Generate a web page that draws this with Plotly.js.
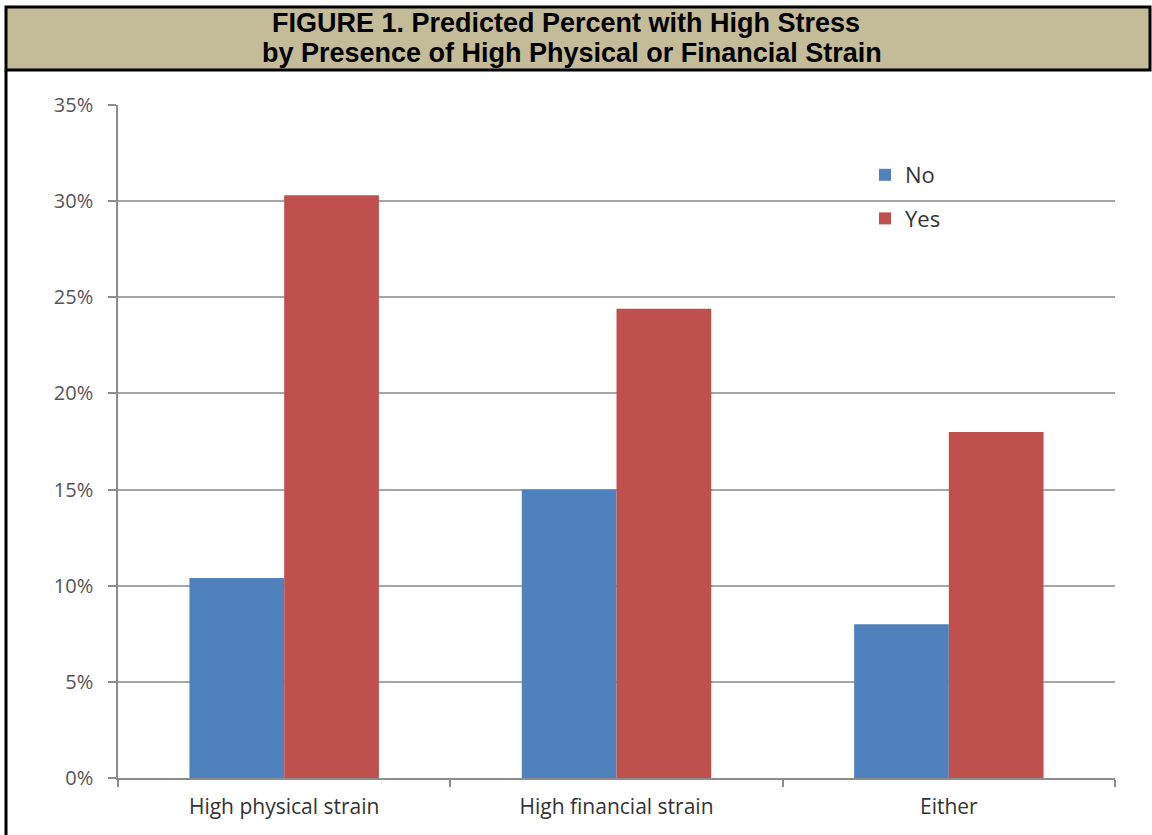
<!DOCTYPE html>
<html>
<head>
<meta charset="utf-8">
<script src="https://cdn.plot.ly/plotly-3.0.1.min.js"></script>
<style>
  html, body { margin: 0; padding: 0; background: #ffffff; }
  #chart { width: 1152px; height: 835px; }
</style>
</head>
<body>
<div id="chart"></div>
<script>
// ---- data ----
const categories = ["High physical strain", "High financial strain", "Either"];
const seriesNames = ["No", "Yes"];
const noValues = [10.4, 15.0, 8.0];
const yesValues = [30.3, 24.4, 18.0];
const yTickValues = [0, 5, 10, 15, 20, 25, 30, 35];
const yTickLabels = ["0%", "5%", "10%", "15%", "20%", "25%", "30%", "35%"];
const titleLines = ["FIGURE 1. Predicted Percent with High Stress", "by Presence of High Physical or Financial Strain"];

// ---- layout geometry (pixels) ----
const FW = 1152, FH = 835;
const L = 118, R = 1115, T = 105, B = 778;
const PW = R - L, PH = B - T;
const px = x => (x - L) / PW;
const py = y => (B - y) / PH;

const blue = "#4f81bd", red = "#c0504d";
const bodyFont = "Open Sans, Lato, sans-serif";
const titleFont = { family: "Liberation Sans, Arial, sans-serif", size: 27, color: "#000000", weight: "bold" };

const traces = [
  { type: "bar", name: seriesNames[0], x: categories, y: noValues,
    marker: { color: blue }, legendgroup: "a", hoverinfo: "x+y" },
  { type: "bar", name: seriesNames[1], x: categories, y: yesValues,
    marker: { color: red }, legendgroup: "b", hoverinfo: "x+y" }
];

const layout = {
  width: FW, height: FH,
  margin: { l: L, r: FW - R, t: T, b: FH - B, pad: 0 },
  paper_bgcolor: "#ffffff", plot_bgcolor: "#ffffff",
  barmode: "group", bargap: 0.43, bargroupgap: 0,
  title: {
    text: titleLines[0],
    font: titleFont,
    xref: "container", yref: "container", x: 566 / FW, xanchor: "center",
    y: 1 - 23 / FH, yanchor: "middle"
  },
  annotations: [
    { text: titleLines[1], xref: "paper", yref: "paper", showarrow: false,
      x: px(572), xanchor: "center", y: py(53), yanchor: "middle",
      font: titleFont }
  ],
  xaxis: {
    type: "category",
    showline: true, linecolor: "#8c8c8c", linewidth: 1.5,
    ticks: "outside", tickson: "boundaries", ticklen: 7, tickcolor: "#8c8c8c", tickwidth: 1.5,
    tickfont: { family: bodyFont, size: 21, color: "#333333" },
    ticklabelstandoff: 9,
    showgrid: false, zeroline: false, fixedrange: true
  },
  yaxis: {
    range: [0, 35], tickvals: yTickValues, ticktext: yTickLabels,
    showline: true, linecolor: "#8c8c8c", linewidth: 1.5,
    ticks: "outside", ticklen: 8, tickcolor: "#8c8c8c", tickwidth: 1.5,
    showgrid: true, gridcolor: "#a6a6a6", gridwidth: 1.5,
    zeroline: false,
    tickfont: { family: bodyFont, size: 20, color: "#555555" },
    ticklabelstandoff: 11, fixedrange: true
  },
  legend: {
    x: px(865), y: py(154), xanchor: "left", yanchor: "top",
    font: { family: bodyFont, size: 22, color: "#333333" },
    bgcolor: "rgba(0,0,0,0)", traceorder: "grouped", tracegroupgap: 12
  },
  shapes: [
    { type: "rect", xref: "paper", yref: "paper", layer: "below",
      x0: px(6), x1: px(1150), y0: py(70), y1: py(7),
      fillcolor: "#c4bb98", line: { color: "#000000", width: 3 } },
    { type: "line", xref: "paper", yref: "paper", layer: "above",
      x0: px(6), x1: px(6), y0: py(70), y1: py(845),
      line: { color: "#000000", width: 3 } }
  ]
};

Plotly.newPlot("chart", traces, layout, { displayModeBar: false });
</script>
</body>
</html>
